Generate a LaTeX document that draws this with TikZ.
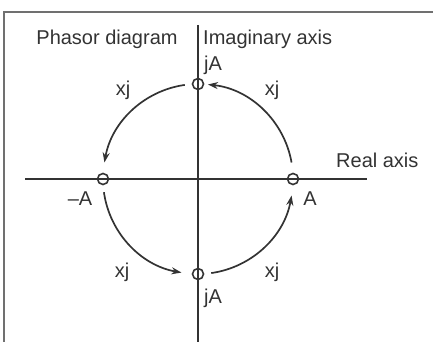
\documentclass[tikz,border=0pt]{standalone}
\usepackage{fontspec}
\setmainfont{Liberation Sans}
\usetikzlibrary{arrows.meta,calc}
\definecolor{ink}{HTML}{333333}
\tikzset{
  axis/.style={draw=ink, line width=1.3pt},
  frameline/.style={draw=ink!70, line width=1.2pt},
  pt/.style={circle, draw=ink, line width=1.6pt, minimum size=11pt, inner sep=0pt},
  rot/.style={draw=ink, line width=1.7pt, -{Stealth[length=10pt,width=7pt]}},
  lbl/.style={text=ink, font=\fontsize{20}{22}\selectfont, inner sep=0pt},
}
\begin{document}
\begin{tikzpicture}[x=1pt,y=1pt]
\useasboundingbox (0,0) rectangle (433,342);
% frame
\coordinate (f1) at (4,0);
\coordinate (f2) at (4,330);
\coordinate (f3) at (433,330);
\draw[frameline] (f1) -- (f2) -- (f3);
% axes
\coordinate (O) at (198,163);
\coordinate (vtop) at (198,317);
\coordinate (vbot) at (198,0);
\coordinate (hl) at (25,163);
\coordinate (hr) at (367,163);
\draw[axis] (vtop) -- (vbot);
\draw[axis] (hl) -- (hr);
% rotation arcs
\def\R{95}
\coordinate (s1) at ($(O)+(10:\R)$);
\coordinate (s2) at ($(O)+(98:\R)$);
\coordinate (s3) at ($(O)+(188:\R)$);
\coordinate (s4) at ($(O)+(278:\R)$);
\draw[rot] (s1) arc[start angle=10, end angle=84, radius=\R];
\draw[rot] (s2) arc[start angle=98, end angle=170, radius=\R];
\draw[rot] (s3) arc[start angle=188, end angle=260, radius=\R];
\draw[rot] (s4) arc[start angle=278, end angle=350, radius=\R];
% points
\node[pt, fill=white] (ptop) at ($(O)+(90:\R)$) {};
\node[pt, fill=white] (pbot) at ($(O)+(270:\R)$) {};
\node[pt, fill=white] (pleft) at ($(O)+(180:\R)$) {};
\node[pt, fill=white] (pright) at ($(O)+(0:\R)$) {};
\draw[axis] (ptop.north) -- (ptop.south);
\draw[axis] (pbot.north) -- (pbot.south);
\draw[axis] (pleft.west) -- (pleft.east);
\draw[axis] (pright.west) -- (pright.east);
% labels
\node[lbl] (t1) at (107,303) {Phasor diagram};
\node[lbl, anchor=west] (t2) at (203,303) {Imaginary axis};
\node[lbl, anchor=west] (t3) at (204,277) {jA};
\node[lbl] (t4) at (123,252) {xj};
\node[lbl] (t5) at (272,252) {xj};
\node[lbl, anchor=west] (t6) at (336,182) {Real axis};
\node[lbl] (t7) at (80,143) {–A};
\node[lbl] (t8) at (310,143) {A};
\node[lbl] (t9) at (122,70) {xj};
\node[lbl] (t10) at (272,70) {xj};
\node[lbl, anchor=west] (t11) at (204,44) {jA};
\end{tikzpicture}
\end{document}
